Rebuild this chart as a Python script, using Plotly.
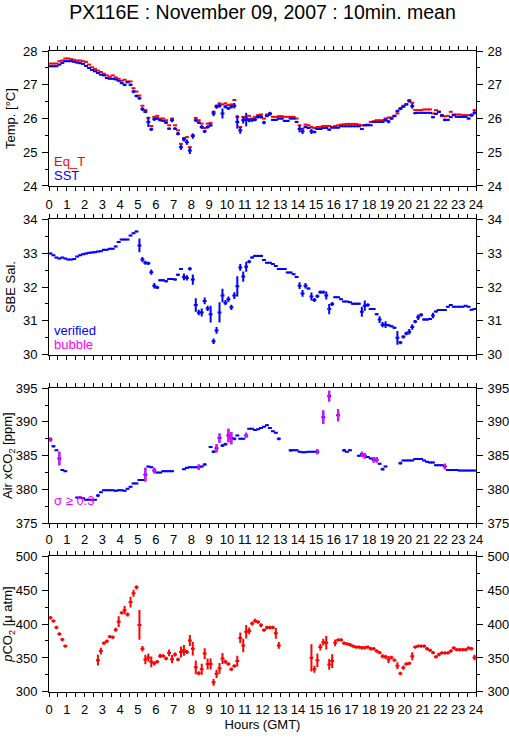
import plotly.graph_objects as go

# ---------------- data (10-min bins, 144 per day) ----------------
hours = [(i + 0.5) / 6 for i in range(144)]

eq_t = [
    27.63, 27.63, 27.63, 27.70, 27.72, 27.78,
    27.78, 27.76, 27.74, 27.72, 27.72, 27.70,
    27.68, 27.60, 27.52, 27.47, 27.42, 27.38,
    27.33, 27.28, 27.24, 27.28, 27.22, 27.18,
    27.12, 27.15, 27.10, 27.10, 26.90, 26.80,
    26.68, 26.38, 26.25, 26.02, 25.78, 26.05,
    26.08, 26.00, 26.00, 25.95, 25.80, 26.00,
    25.80, 25.65, 25.25, 25.42, 25.45, 25.15,
    25.50, 26.02, 25.95, 25.85, 25.72, 25.85,
    25.87, 26.20, 26.38, 26.45, 26.42, 26.45,
    26.40, 26.42, 26.55, 26.05, 25.75, 26.05,
    26.02, 26.08, 26.00, 26.05, 26.10, 26.12,
    26.00, 26.12, 26.15, 26.05, 26.05, 26.07,
    26.07, 26.05, 26.05, 26.05, 26.05, 26.00,
    25.80, 25.70, 25.82, 25.80, 25.75, 25.72,
    25.75, 25.75, 25.78, 25.78, 25.78, 25.75,
    25.78, 25.80, 25.82, 25.83, 25.84, 25.84,
    25.84, 25.84, 25.82, 25.80, 25.80, 25.82,
    25.90, 25.92, 25.95, 25.95, 25.95, 26.00,
    26.03, 26.03, 26.07, 26.15, 26.28, 26.38,
    26.42, 26.55, 26.47, 26.25, 26.25, 26.25,
    26.27, 26.27, 26.27, 26.15, 26.25, 26.20,
    26.07, 26.07, 26.08, 26.20, 26.12, 26.12,
    26.12, 26.10, 26.10, 26.10, 26.10, 26.25,
]

sst = [
    27.55, 27.55, 27.55, 27.60, 27.65, 27.70,
    27.70, 27.70, 27.68, 27.66, 27.64, 27.62,
    27.56, 27.50, 27.44, 27.40, 27.35, 27.30,
    27.28, 27.20, 27.18, 27.18, 27.16, 27.12,
    27.05, 27.00, 27.08, 27.00, 26.80, 26.67,
    26.60, 26.28, 26.20, 25.90, 25.68, 25.98,
    26.00, 25.95, 25.93, 25.88, 25.70, 25.95,
    25.70, 25.55, 25.15, 25.38, 25.30, 25.05,
    25.48, 25.95, 25.88, 25.75, 25.62, 25.75,
    25.80, 26.15, 26.35, 26.38, 26.15, 26.35,
    26.30, 26.35, 26.38, 25.90, 25.65, 25.95,
    25.97, 25.95, 25.95, 25.97, 26.05, 26.05,
    25.88, 26.08, 26.14, 25.96, 25.96, 26.00,
    26.00, 25.93, 25.93, 26.00, 26.00, 25.90,
    25.69, 25.62, 25.75, 25.72, 25.62, 25.60,
    25.69, 25.69, 25.72, 25.72, 25.67, 25.73,
    25.73, 25.73, 25.77, 25.77, 25.77, 25.77,
    25.77, 25.77, 25.77, 25.69, 25.80, 25.80,
    25.80, 25.90, 25.90, 25.90, 25.90, 25.96,
    25.91, 26.00, 26.08, 26.22, 26.30, 26.35,
    26.42, 26.51, 26.37, 26.16, 26.17, 26.17,
    26.17, 26.17, 26.17, 26.04, 26.14, 26.20,
    26.10, 25.96, 25.96, 26.04, 26.10, 26.05,
    26.05, 26.05, 26.05, 26.00, 26.10, 26.17,
]

sst_err = [
    .02, .02, .02, .02, .02, .02,
    .02, .02, .02, .02, .02, .02,
    .02, .02, .02, .02, .02, .02,
    .02, .02, .02, .02, .02, .02,
    .03, .04, .03, .04, .05, .04,
    .04, .06, .04, .15, .05, .05,
    .04, .03, .03, .04, .03, .06,
    .04, .05, .08, .06, .08, .10,
    .08, .05, .04, .06, .05, .05,
    .04, .08, .06, .06, .15, .05,
    .04, .05, .08, .20, .10, .10,
    .20, .06, .05, .05, .05, .05,
    .05, .04, .06, .03, .03, .03,
    .03, .03, .03, .02, .02, .03,
    .10, .08, .03, .03, .08, .04,
    .03, .03, .03, .02, .03, .02,
    .02, .02, .02, .02, .02, .02,
    .02, .02, .02, .03, .02, .02,
    .02, .02, .02, .02, .02, .05,
    .05, .04, .03, .04, .04, .03,
    .03, .03, .08, .03, .02, .02,
    .02, .02, .02, .03, .03, .03,
    .03, .04, .03, .02, .02, .02,
    .02, .02, .02, .03, .05, .05,
]

sal = [
    32.99, 32.94, 32.87, 32.84, 32.87, 32.84,
    32.81, 32.81, 32.83, 32.90, 32.94, 32.97,
    32.99, 33.01, 33.02, 33.03, 33.05, 33.06,
    33.10, 33.10, 33.13, 33.13, 33.20, 33.33,
    33.40, 33.40, 33.40, 33.52, 33.59, 33.64,
    33.23, 32.81, 32.72, 32.70, 32.44, 32.04,
    31.99, 32.20, 32.20, 32.17, 32.24, 32.24,
    32.22, 32.36, 32.53, 32.30, 32.27, 32.54,
    32.22, 31.47, 31.25, 31.25, 31.59, 31.37,
    31.20, 30.40, 30.72, 31.25, 31.75, 31.54,
    31.64, 31.40, 31.75, 32.02, 32.58, 32.31,
    32.60, 32.75, 32.87, 32.92, 32.92, 32.92,
    32.80, 32.72, 32.72, 32.68, 32.62, 32.53,
    32.53, 32.53, 32.43, 32.43, 32.38, 32.30,
    32.04, 31.81, 32.04, 31.96, 31.72, 31.62,
    31.73, 31.85, 31.85, 31.75, 31.35, 31.50,
    31.70, 31.70, 31.64, 31.57, 31.57, 31.55,
    31.51, 31.51, 31.51, 31.27, 31.45, 31.47,
    31.35, 31.35, 31.20, 31.04, 30.89, 30.89,
    30.87, 30.84, 30.80, 30.50, 30.36, 30.53,
    30.63, 30.68, 30.82, 30.98, 31.11, 31.18,
    31.04, 31.04, 31.06, 31.16, 31.28, 31.32,
    31.32, 31.32, 31.42, 31.47, 31.42, 31.42,
    31.42, 31.42, 31.45, 31.42, 31.33, 31.35,
]

sal_err = [
    .02, .02, .02, .02, .02, .02,
    .02, .02, .02, .02, .02, .02,
    .02, .02, .02, .02, .02, .02,
    .02, .02, .02, .02, .02, .02,
    .02, .02, .02, .02, .02, .02,
    .20, .08, .06, .05, .08, .08,
    .05, .03, .03, .03, .03, .03,
    .03, .03, .03, .10, .08, .05,
    .15, .20, .08, .12, .10, .08,
    .25, .08, .10, .30, .20, .08,
    .08, .08, .10, .30, .10, .15,
    .15, .05, .03, .03, .03, .03,
    .02, .02, .02, .02, .02, .02,
    .02, .02, .02, .02, .02, .02,
    .10, .10, .08, .03, .12, .06,
    .05, .05, .05, .12, .15, .06,
    .02, .02, .02, .02, .02, .02,
    .03, .03, .03, .15, .15, .05,
    .03, .03, .03, .10, .08, .10,
    .03, .03, .03, .20, .05, .05,
    .05, .08, .08, .05, .08, .05,
    .03, .03, .03, .08, .03, .03,
    .02, .02, .02, .02, .02, .02,
    .02, .02, .02, .02, .02, .02,
]

N = None
xco2 = [
    387.4, 386.4, 385.8, 384.6, 382.9, 382.7,
    N, N, N, 378.8, 378.8, 378.7,
    378.5, 378.5, 378.5, 378.5, 379.1, 379.6,
    379.9, 379.9, 379.9, 379.9, 379.8, 379.9,
    379.9, 379.8, 380.1, 380.4, 380.9, 380.9,
    381.4, 381.4, 382.2, 383.4, 383.3, 382.8,
    382.5, 382.5, 382.7, 382.7, 382.7, 382.7,
    N, N, N, 383.0, 383.2, 383.3,
    383.3, 383.3, 383.3, 383.4, 383.7, N,
    386.3, 385.6, 386.1, 387.6, 386.5, 386.7,
    388.0, 387.6, 387.5, 388.0, 387.5, 387.5,
    388.0, 389.0, 389.0, 388.8, 388.9, 389.1,
    389.3, 389.5, 389.1, 388.6, 388.4, 387.5,
    N, N, N, 385.8, 385.8, 385.8,
    385.6, 385.5, 385.5, 385.6, 385.6, 385.6,
    385.6, N, 390.7, N, 393.8, N,
    N, 391.0, N, 385.8, 385.6, 385.8,
    N, N, 385.0, 385.2, 385.0, 384.8,
    384.6, 384.4, 384.4, 383.8, 383.0, 383.4,
    N, N, N, N, 383.9, 384.3,
    384.3, 384.3, 384.3, 384.5, 384.5, 384.5,
    384.3, 384.1, 384.0, 384.0, 383.6, 383.6,
    383.6, 383.4, 382.9, 382.9, 382.9, 382.9,
    382.8, 382.8, 382.8, 382.8, 382.8, 382.8,
]

xco2_err = [
    .3, .2, .1, 1.0, .1, .1,
    .1, .1, .1, .1, .1, .1,
    .1, .1, .1, .1, .2, .1,
    .1, .1, .1, .1, .1, .1,
    .1, .1, .1, .1, .1, .1,
    .1, .1, 1.0, .1, .1, .4,
    .1, .1, .1, .1, .1, .1,
    .1, .1, .1, .1, .1, .1,
    .1, .1, .4, .1, .2, .1,
    .1, .2, .6, .7, .2, .2,
    1.0, .9, .2, .1, .1, .1,
    .4, .1, .1, .1, .1, .1,
    .1, .1, .1, .1, .1, .2,
    .1, .1, .1, .2, .1, .1,
    .1, .1, .1, .1, .1, .1,
    .4, .1, 1.0, .1, .8, .1,
    .1, .9, .1, .2, .1, .1,
    .1, .1, .1, .4, .4, .1,
    .1, .4, .4, .1, .2, .1,
    .1, .1, .1, .1, .2, .1,
    .1, .1, .1, .1, .1, .1,
    .1, .1, .1, .1, .1, .1,
    .1, .4, .1, .1, .1, .1,
    .1, .1, .1, .1, .1, .1,
]

pco2 = [
    409.4, 404.6, 395.0, 385.3, 377.1, 367.5,
    N, N, N, N, N, N,
    N, N, N, N, 346.7, 360.2,
    371.8, 374.7, 381.4, 380.5, 391.6, 403.6,
    416.6, 420.5, 414.2, 432.5, 445.5, 454.2,
    398.8, 363.6, 347.7, 350.6, 344.3, 342.0,
    344.3, 353.0, 353.0, 349.2, 357.4, 348.2,
    355.0, 347.7, 358.8, 361.2, 358.8, 375.7,
    363.6, 336.1, 327.5, 333.3, 356.4, 341.0,
    341.0, 314.0, 326.5, 334.7, 349.2, 344.3,
    341.0, 333.3, 338.1, 345.3, 379.5, 368.4,
    388.7, 390.1, 400.7, 405.0, 403.1, 398.3,
    391.1, 394.9, 394.9, 394.9, 386.3, 368.4,
    N, N, N, N, N, N,
    N, N, N, N, 350.1, 333.3,
    346.7, 366.0, 373.3, 372.3, 340.5, 345.3,
    372.3, 376.6, 376.6, 371.8, 370.8, 369.4,
    367.5, 366.0, 366.0, 365.1, 365.1, 366.0,
    363.6, 363.6, 360.2, 357.8, 352.5, 351.6,
    347.7, 350.6, 346.7, 338.6, 327.0, 335.7,
    341.0, 342.0, 352.5, 366.0, 367.5, 367.5,
    367.5, 363.6, 361.2, 357.8, 351.6, 355.0,
    357.4, 357.4, 357.4, 360.2, 364.6, 362.2,
    362.2, 362.2, 362.2, 364.6, 363.6, 350.6,
]

pco2_err = [
    2.5, 2.5, 2.5, 2.5, 2.5, 2.5,
    2.5, 2.5, 2.5, 2.5, 2.5, 2.5,
    2.5, 2.5, 2.5, 2.5, 8, 5,
    2.5, 2.5, 2.5, 2.5, 3, 8,
    2.5, 6, 3, 8, 5, 3,
    22, 4, 7, 6, 8, 3,
    2.5, 3, 2.5, 2.5, 5, 6,
    3, 2.5, 8, 8, 3, 8,
    10, 10, 3, 8, 8, 8,
    8, 5, 6, 8, 8, 3,
    2.5, 2.5, 2.5, 8, 8, 10,
    10, 5, 3, 3, 2.5, 3,
    2.5, 2.5, 2.5, 2.5, 8, 5,
    2.5, 2.5, 2.5, 2.5, 2.5, 2.5,
    2.5, 2.5, 2.5, 2.5, 20, 5,
    10, 5, 5, 10, 8, 10,
    5, 2.5, 2.5, 2.5, 2.5, 2.5,
    2.5, 2.5, 2.5, 2.5, 2.5, 2.5,
    2.5, 2.5, 2.5, 2.5, 3, 3,
    5, 2.5, 2.5, 5, 2.5, 3,
    2.5, 2.5, 6, 2.5, 2.5, 2.5,
    2.5, 2.5, 2.5, 2.5, 2.5, 2.5,
    2.5, 2.5, 2.5, 2.5, 2.5, 2.5,
    2.5, 2.5, 2.5, 2.5, 2.5, 4,
]

hour_ticks = list(range(0, 25))

# ---------------- styling ----------------
RED, BLUE, MAG = "#ff0000", "#0000ff", "#ff00ff"
FONT = "Liberation Sans, Arial, Helvetica, sans-serif"


def marks(y, err, color, xa, ya, err_color=None, show_marker=True):
    return go.Scatter(
        x=hours, y=y, mode="markers", xaxis=xa, yaxis=ya,
        marker=dict(symbol="line-ew", size=2.8 if show_marker else 0.1,
                    color=color,
                    line=dict(width=2 if show_marker else 0, color=color)),
        error_y=dict(type="data", array=err, visible=err is not None,
                     color=err_color or color, thickness=2, width=0),
        showlegend=False, hoverinfo="skip",
    )


fig = go.Figure()
fig.add_trace(marks(eq_t, None, RED, "x", "y"))
fig.add_trace(marks(sst, sst_err, BLUE, "x", "y"))
fig.add_trace(marks(sal, sal_err, BLUE, "x2", "y2"))
fig.add_trace(marks(xco2, xco2_err, BLUE, "x3", "y3"))
flag_y = [v if (v is not None and e >= 0.3) else None for v, e in zip(xco2, xco2_err)]
flag_e = [e if e >= 0.3 else 0 for e in xco2_err]
fig.add_trace(marks(flag_y, flag_e, MAG, "x3", "y3", err_color=MAG, show_marker=False))
fig.add_trace(marks(pco2, pco2_err, RED, "x4", "y4"))

H = 739
panel_px = [(45, 182.7), (216.7, 355), (389, 527), (560.7, 699)]
domains = [[1 - b / H, 1 - t / H] for t, b in panel_px]

tickfont = dict(family=FONT, size=13, color="black")
xbase = dict(range=[0, 24], tickmode="array", tickvals=hour_ticks,
             ticktext=[str(h) for h in hour_ticks],
             ticks="outside", ticklen=4, tickwidth=1, tickcolor="black",
             minor=dict(dtick=0.5, tick0=0, ticks="outside", ticklen=4,
                        tickcolor="black", tickwidth=1),
             showline=True, linecolor="black", linewidth=1, mirror="allticks",
             showgrid=False, zeroline=False, tickfont=tickfont, ticklabelstandoff=2)

yspecs = [
    dict(range=[24, 28], dtick=1, minor=0.5, title="Temp. [°C]"),
    dict(range=[30, 34], dtick=1, minor=0.5, title="SBE Sal."),
    dict(range=[375, 395], dtick=5, minor=2.5, title="Air xCO<sub>2</sub> [ppm]"),
    dict(range=[300, 500], dtick=50, minor=25, title="<i>p</i>CO<sub>2</sub> [μ atm]"),
]

layout = dict(
    width=509, height=739,
    margin=dict(l=49, r=33, t=0, b=0, pad=0),
    paper_bgcolor="white", plot_bgcolor="white",
    font=dict(family=FONT, size=13, color="black"),
    title=dict(text="PX116E : November 09, 2007 : 10min. mean",
               x=0.5, xref="paper", xanchor="center",
               y=1 - 12 / H, yref="container", yanchor="middle",
               font=dict(family=FONT, size=19.5, color="black")),
)

for i in range(4):
    n = i + 1
    xk = "xaxis" if n == 1 else f"xaxis{n}"
    yk = "yaxis" if n == 1 else f"yaxis{n}"
    ax = dict(xbase)
    ax["anchor"] = "y" if n == 1 else f"y{n}"
    ax["showticklabels"] = n in (1, 4)
    if n == 4:
        ax["title"] = dict(text="Hours (GMT)", font=dict(family=FONT, size=13), standoff=2)
    layout[xk] = ax
    s = yspecs[i]
    ybase = dict(range=s["range"], dtick=s["dtick"], tick0=s["range"][0],
                 ticks="outside", ticklen=6, tickwidth=1, tickcolor="black",
                 minor=dict(dtick=s["minor"], ticks="outside", ticklen=3,
                            tickcolor="black", tickwidth=1),
                 showline=True, linecolor="black", linewidth=1,
                 showgrid=False, zeroline=False, tickfont=tickfont,
                 ticklabelstandoff=2)
    left = dict(ybase)
    left.update(domain=domains[i], anchor="x" if n == 1 else f"x{n}", side="left",
                title=dict(text=s["title"], font=dict(family=FONT, size=13), standoff=4))
    layout[yk] = left
    right = dict(ybase)
    right.update(overlaying="y" if n == 1 else f"y{n}", side="right",
                 anchor="x" if n == 1 else f"x{n}")
    layout[f"yaxis{n + 4}"] = right
    # invisible anchor trace so the right-hand axis is rendered
    fig.add_trace(go.Scatter(x=[12], y=[s["range"][0]], mode="markers",
                             xaxis="x" if n == 1 else f"x{n}", yaxis=f"y{n + 4}",
                             marker=dict(opacity=0, size=1), showlegend=False,
                             hoverinfo="skip"))

# top tick labels for the bottom panel
top = dict(xbase)
top.update(overlaying="x4", side="top", anchor="y4", mirror=False)
layout["xaxis5"] = top
fig.add_trace(go.Scatter(x=[12], y=[300], mode="markers", xaxis="x5", yaxis="y4",
                         marker=dict(opacity=0, size=1), showlegend=False,
                         hoverinfo="skip"))

fig.update_layout(**layout)

# in-panel legends
ann = [
    dict(x=0.15, y=24.72, xref="x", yref="y", text="Eq_T", color=RED),
    dict(x=0.15, y=24.30, xref="x", yref="y", text="SST", color=BLUE),
    dict(x=0.15, y=30.71, xref="x2", yref="y2", text="verified", color=BLUE),
    dict(x=0.15, y=30.29, xref="x2", yref="y2", text="bubble", color=MAG),
    dict(x=0.15, y=378.3, xref="x3", yref="y3", text="σ ≥ 0.3", color=MAG),
]
for a in ann:
    fig.add_annotation(x=a["x"], y=a["y"], xref=a["xref"], yref=a["yref"],
                       text=a["text"], showarrow=False, xanchor="left",
                       yanchor="middle",
                       font=dict(family=FONT, size=13, color=a["color"]))

fig.write_html("out.html",
               config={"displayModeBar": False, "staticPlot": True},
               post_script="document.body.style.margin='0';"
                           "document.body.style.overflow='hidden';")
